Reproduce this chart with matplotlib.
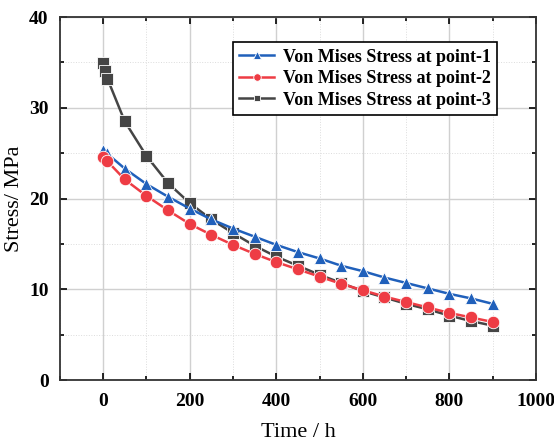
import numpy as np
import matplotlib.pyplot as plt
from matplotlib.ticker import MultipleLocator

plt.rcParams.update({'font.family': 'Liberation Serif', 'mathtext.fontset': 'stix'})

# Zeitpunkte und Spannungen an drei Messpunkten
t_common = [50, 100, 150, 200, 250, 300, 350, 400, 450, 500,
            550, 600, 650, 700, 750, 800, 850, 900]
t_p1 = [0, 8] + t_common
t_p2 = [0, 10] + t_common
t_p3 = [0, 5, 10] + t_common

s_p1 = [25.3, 25.0, 23.3, 21.6, 20.2, 18.9, 17.7, 16.7, 15.8, 14.9, 14.1, 13.4,
        12.6, 12.0, 11.3, 10.7, 10.1, 9.5, 9.0, 8.4]
s_p2 = [24.6, 24.1, 22.1, 20.3, 18.7, 17.2, 16.0, 14.9, 13.9, 13.0, 12.2, 11.4,
        10.6, 9.9, 9.2, 8.6, 8.0, 7.4, 6.9, 6.4]
s_p3 = [34.9, 34.0, 33.2, 28.5, 24.7, 21.7, 19.5, 17.7, 16.2, 14.8, 13.6, 12.6,
        11.6, 10.7, 9.8, 9.1, 8.4, 7.8, 7.1, 6.5, 6.0]

labels = ['Von Mises Stress at point-1',
          'Von Mises Stress at point-2',
          'Von Mises Stress at point-3']

fig = plt.figure(figsize=(5.54, 4.43), dpi=100)
ax = fig.add_axes([0.108, 0.142, 0.8595, 0.8196])

ax.plot(t_p1, s_p1, '-^', color='#2060bb', lw=1.8, ms=9, mec='white', mew=0.6,
        label=labels[0], zorder=3)
ax.plot(t_p2, s_p2, '-o', color='#ee3c44', lw=1.8, ms=9, mec='white', mew=0.6,
        label=labels[1], zorder=4)
ax.plot(t_p3, s_p3, '-s', color='#454545', lw=1.8, ms=8, mec='white', mew=0.6,
        label=labels[2], zorder=2)

ax.set_xlim(-100, 1000)
ax.set_ylim(0, 40)
ax.xaxis.set_major_locator(MultipleLocator(200))
ax.xaxis.set_minor_locator(MultipleLocator(100))
ax.yaxis.set_major_locator(MultipleLocator(10))
ax.yaxis.set_minor_locator(MultipleLocator(5))

ax.grid(which='major', color='#d0d0d0', lw=1.0, ls='-')
ax.grid(which='minor', color='#dcdcdc', lw=0.7, ls=':')
ax.set_axisbelow(True)

ax.tick_params(which='both', direction='in', top=True, right=True,
               labelsize=14, width=1.2)
ax.tick_params(which='major', length=5)
ax.tick_params(which='minor', length=3)
ax.tick_params(axis='x', pad=9)
ax.tick_params(axis='y', pad=8)
for lab in ax.get_xticklabels() + ax.get_yticklabels():
    lab.set_fontweight('bold')
for sp in ax.spines.values():
    sp.set_linewidth(1.3)
    sp.set_color('#333333')

ax.set_xlabel('Time / h', fontsize=16, labelpad=10)
ax.set_ylabel('Stress/ MPa', fontsize=16, labelpad=4)

leg = ax.legend(loc='upper left', bbox_to_anchor=(0.345, 0.955),
                prop={'weight': 'bold', 'size': 13}, fancybox=False,
                edgecolor='black', framealpha=1, handlelength=1.9,
                handletextpad=0.5, borderpad=0.35, labelspacing=0.25,
                markerscale=0.6)
leg.get_frame().set_linewidth(1.2)

plt.savefig('out.png', dpi=100)
